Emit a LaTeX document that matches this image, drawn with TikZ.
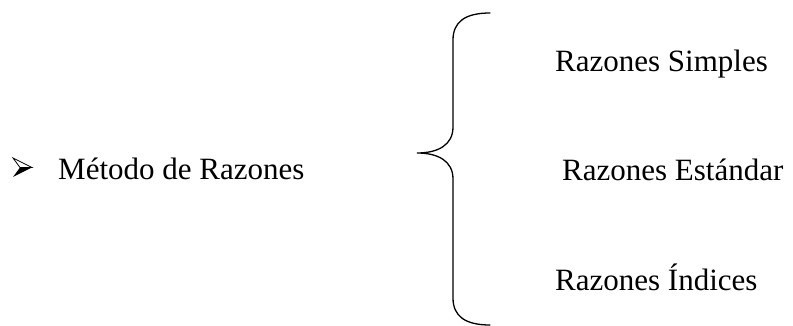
\documentclass[tikz,border=0pt]{standalone}
\usepackage{fontspec}
\setmainfont{Liberation Serif}
\begin{document}
\begin{tikzpicture}[x=1pt,y=-1pt,
  label text/.style={anchor=base west,inner sep=0pt,font=\fontsize{31}{37}\selectfont},
  brace line/.style={line width=1.3pt,line cap=round}]
\useasboundingbox (0,0) rectangle (793,326);
% arrowhead bullet: outlined upper half, filled lower half
\coordinate (tip) at (32,167.5);
\coordinate (ub) at (13,158);
\coordinate (lb) at (13,177);
\coordinate (notch) at (20,167.5);
\fill (tip) -- (notch) -- (lb) -- cycle;
\draw[line width=0.8pt,line join=miter] (tip) -- (ub) -- (notch) -- cycle;
% main item
\node[label text] (main) at (58,179) {Método de Razones};
% curly brace
\coordinate (top) at (490,13);
\coordinate (mid) at (417,153);
\coordinate (bot) at (490,325);
\draw[brace line] (top) .. controls (465,13) and (453,22) .. (453,40)
  -- (453,127) .. controls (453,145) and (438,153) .. (mid)
  .. controls (438,153) and (453,161) .. (453,179)
  -- (453,298) .. controls (453,316) and (465,325) .. (bot);
% items
\node[label text] (s1) at (555,72) {Razones Simples};
\node[label text] (s2) at (562,181) {Razones Estándar};
\node[label text] (s3) at (555,290) {Razones Índices};
\end{tikzpicture}
\end{document}
